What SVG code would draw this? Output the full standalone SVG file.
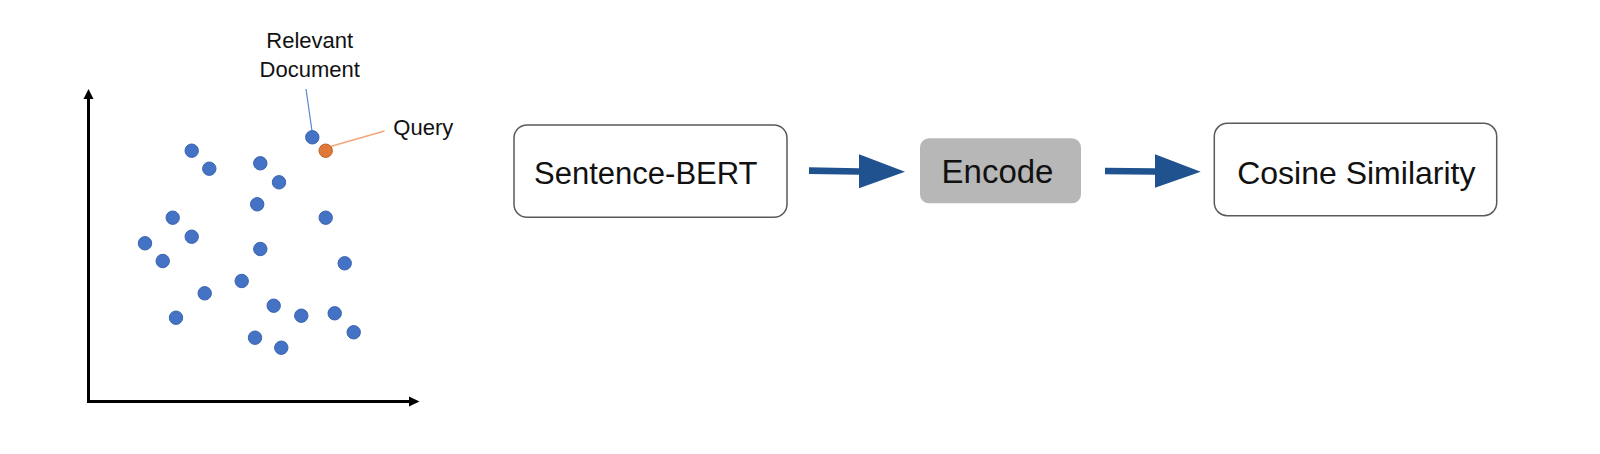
<svg xmlns="http://www.w3.org/2000/svg" width="1600" height="454" viewBox="0 0 1600 454">
<style>
.dot{fill:#4472C4;stroke:#3A64B0;stroke-width:1}
.q{fill:#E0783A;stroke:#B85F28;stroke-width:1}
.lbl{font-family:"Liberation Sans",Arial,sans-serif;font-size:22px;fill:#111}
.box{fill:#fff;stroke:#5a5a5a;stroke-width:1.5}
.node{font-family:"Liberation Sans",Arial,sans-serif;fill:#111;text-anchor:middle}
.arr{fill:#1F528F}
.axis{stroke:#000;stroke-width:3;fill:none}
</style>
<rect width="1600" height="454" fill="#fff"/>
<g id="scatter">
<line class="axis" x1="88.5" y1="402" x2="88.5" y2="97"/>
<polygon points="83.5,99 88.5,89 93.5,99" fill="#000"/>
<line class="axis" x1="87" y1="401.5" x2="411" y2="401.5"/>
<polygon points="409,396.5 419.5,401.5 409,406.5" fill="#000"/>
<line x1="306" y1="89" x2="312" y2="131" stroke="#5B86D0" stroke-width="1.2"/>
<line x1="330.5" y1="146.5" x2="384.5" y2="131" stroke="#F0A878" stroke-width="1.5"/>
<circle class="dot" cx="191.7" cy="150.7" r="6.7"/>
<circle class="dot" cx="209.3" cy="168.7" r="6.7"/>
<circle class="dot" cx="260.3" cy="163.3" r="6.7"/>
<circle class="dot" cx="279" cy="182.3" r="6.7"/>
<circle class="dot" cx="257.2" cy="204.3" r="6.7"/>
<circle class="dot" cx="172.7" cy="217.7" r="6.7"/>
<circle class="dot" cx="325.7" cy="217.7" r="6.7"/>
<circle class="dot" cx="191.7" cy="236.7" r="6.7"/>
<circle class="dot" cx="145" cy="243.3" r="6.7"/>
<circle class="dot" cx="260.3" cy="249" r="6.7"/>
<circle class="dot" cx="162.7" cy="261" r="6.7"/>
<circle class="dot" cx="344.7" cy="263.3" r="6.7"/>
<circle class="dot" cx="241.7" cy="281" r="6.7"/>
<circle class="dot" cx="204.7" cy="293.3" r="6.7"/>
<circle class="dot" cx="273.7" cy="305.7" r="6.7"/>
<circle class="dot" cx="301.3" cy="315.7" r="6.7"/>
<circle class="dot" cx="334.7" cy="313.3" r="6.7"/>
<circle class="dot" cx="176" cy="317.7" r="6.7"/>
<circle class="dot" cx="353.7" cy="332.3" r="6.7"/>
<circle class="dot" cx="255" cy="337.7" r="6.7"/>
<circle class="dot" cx="281.3" cy="347.7" r="6.7"/>
<circle class="dot" cx="312.3" cy="137.3" r="6.7"/>
<circle class="q" cx="325.7" cy="150.7" r="6.7"/>
<text class="lbl" x="309.7" y="47.7" text-anchor="middle">Relevant</text>
<text class="lbl" x="309.7" y="76.7" text-anchor="middle">Document</text>
<text class="lbl" x="393.3" y="135">Query</text>
</g>
<g id="connectors">
<polygon class="arr" points="809,167.3 859,168.2 859,174.8 809,174"/>
<polygon class="arr" points="859,154.3 905,171.7 859,188.3"/>
<polygon class="arr" points="1105,167.7 1155,168.2 1155,174.8 1105,174.3"/>
<polygon class="arr" points="1155,154.3 1200.7,171.7 1155,187.7"/>
</g>
<g id="node-sentence-bert">
<rect class="box" x="514" y="125" width="273" height="92.3" rx="13"/>
<text class="node" x="645.8" y="184" font-size="31">Sentence-BERT</text>
</g>
<g id="node-encode">
<rect x="920" y="138.3" width="161" height="65" rx="9" fill="#B7B7B7"/>
<text class="node" x="997.5" y="183.3" font-size="33">Encode</text>
</g>
<g id="node-cosine">
<rect class="box" x="1214.3" y="123.3" width="282.4" height="92.4" rx="13"/>
<text class="node" x="1356.3" y="184" font-size="32">Cosine Similarity</text>
</g>
</svg>
